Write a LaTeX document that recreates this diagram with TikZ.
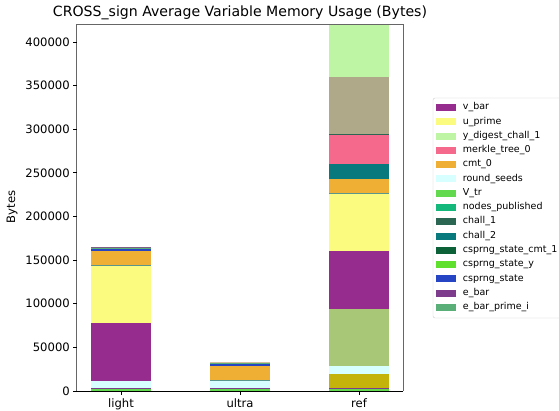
\documentclass[tikz,border=0pt]{standalone}
\usepackage{fontspec}
\setmainfont{DejaVu Sans}
\usepackage{tikz}

\definecolor{vbar}{RGB}{150,44,141}
\definecolor{uprime}{RGB}{251,251,127}
\definecolor{ydigest}{RGB}{190,245,165}
\definecolor{merkle}{RGB}{245,105,141}
\definecolor{cmtzero}{RGB}{239,175,53}
\definecolor{rseeds}{RGB}{215,255,255}
\definecolor{vtr}{RGB}{99,217,79}
\definecolor{nodespub}{RGB}{19,184,122}
\definecolor{challone}{RGB}{42,102,82}
\definecolor{challtwo}{RGB}{8,121,124}
\definecolor{cmtone}{RGB}{13,97,56}
\definecolor{statey}{RGB}{95,224,45}
\definecolor{state}{RGB}{37,69,197}
\definecolor{ebar}{RGB}{126,60,140}
\definecolor{ebarprime}{RGB}{90,174,120}
\definecolor{olive}{RGB}{196,179,10}
\definecolor{tan}{RGB}{175,169,138}
\definecolor{greenolive}{RGB}{168,199,119}
\definecolor{thinline}{RGB}{90,150,140}
\definecolor{navy}{RGB}{20,40,70}

\begin{document}
\begin{tikzpicture}
[
x=1pt, y=1pt,
ticklabel/.style={font=\fontsize{11.6}{13}\selectfont, inner sep=0pt},
legtext/.style={font=\fontsize{9.5}{11}\selectfont, anchor=west, inner sep=0pt},
legpatch/.style={minimum width=20.5pt, minimum height=7pt, inner sep=0pt, anchor=west},
spine/.style={black!60, line width=1pt}
]
\useasboundingbox (0,0) rectangle (559,410);

% title and y label
\node[font=\fontsize{14.1}{16}\selectfont] (title) at (240,397) {CROSS\_sign Average Variable Memory Usage (Bytes)};
\node[ticklabel, rotate=90] (ylab) at (12,203) {Bytes};

% data part: x in categories, y in kB
\begin{scope}[x=119pt, y=0.8725pt, shift={(121pt,19pt)}]
\begin{scope}
\clip (-0.37,0) rectangle (2.37,420);
% light
\foreach \top/\col [remember=\top as \bot (initially 0)] in
  {2.3/vtr, 3.4/ebar, 11.5/rseeds, 77.9/vbar, 143.6/uprime, 144.4/thinline,
   160.8/cmtzero, 163.1/state, 164.4/ebarprime, 165.3/ebar!50!gray}
  \fill[\col] (-0.25,\bot) rectangle (0.25,\top);
% ultra
\foreach \top/\col [remember=\top as \bot (initially 0)] in
  {2.3/vtr, 3.4/ebar, 11.8/rseeds, 12.6/thinline, 28.7/cmtzero,
   31.3/state, 32.5/ebarprime, 33.4/ydigest!60!merkle}
  \fill[\col] (0.75,\bot) rectangle (1.25,\top);
% ref
\foreach \top/\col [remember=\top as \bot (initially 0)] in
  {2.3/vtr, 3.4/ebar, 19.5/olive, 28.7/rseeds, 94.0/greenolive, 160.5/vbar,
   225.8/uprime, 226.6/thinline, 243.0/cmtzero, 260.2/challtwo, 293.5/merkle,
   294.3/challone, 360.0/tan, 419.0/ydigest, 430/navy}
  \fill[\col] (1.75,\bot) rectangle (2.25,\top);
\end{scope}

% axes
\draw[spine] (-0.37,0) -- (-0.37,420) -- (2.37,420) -- (2.37,0);
\draw[black, line width=0.9pt] (-0.37,0) -- (2.37,0);
\foreach \v in {0,50,...,400}{
  \draw[black, line width=0.8pt] (-0.37,\v) -- ++(-4pt,0);
  \node[ticklabel, anchor=east] (yt\v) at ([xshift=-7pt]-0.37,\v) {\ifnum\v=0 0\else\v000\fi};
}
\foreach \c/\name in {0/light, 1/ultra, 2/ref}{
  \draw[black, line width=0.8pt] (\c,0) -- ++(0,-4pt);
  \node[ticklabel, anchor=north] (xt\name) at ([yshift=-7pt]\c,0) {\strut\name};
}
\end{scope}

% legend
\draw[black!20, rounded corners=2pt, fill=white] (433,92) rectangle (570,312) ;
\foreach \name/\col [count=\i] in
  {v\_bar/vbar, u\_prime/uprime, y\_digest\_chall\_1/ydigest, merkle\_tree\_0/merkle,
   cmt\_0/cmtzero, round\_seeds/rseeds, V\_tr/vtr, nodes\_published/nodespub,
   chall\_1/challone, chall\_2/challtwo, csprng\_state\_cmt\_1/cmtone,
   csprng\_state\_y/statey, csprng\_state/state, e\_bar/ebar, e\_bar\_prime\_i/ebarprime}{
  \node[legpatch, fill=\col] (patch\i) at (435.7,{302.3-14.26*(\i-1)}) {};
  \node[legtext] (leg\i) at (462.7,{302.3-14.26*(\i-1)}) {\strut\name};
}
\end{tikzpicture}
\end{document}
